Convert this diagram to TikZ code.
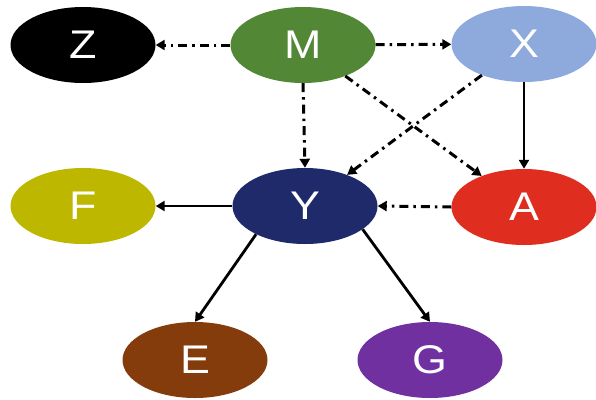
\documentclass[tikz,border=0pt]{standalone}
\usepackage{fontspec}
\setmainfont{Liberation Sans}
\newfontfamily\lblfont[FakeStretch=1.12]{Liberation Sans}
\usetikzlibrary{arrows.meta,shapes.geometric}
\definecolor{cZ}{HTML}{000000}
\definecolor{cM}{HTML}{528736}
\definecolor{cX}{HTML}{8EA9DB}
\definecolor{cY}{HTML}{1F2A6B}
\definecolor{cA}{HTML}{DF2E1F}
\definecolor{cF}{HTML}{BDB700}
\definecolor{cE}{HTML}{843C0C}
\definecolor{cG}{HTML}{7030A0}
\tikzset{
  var/.style={ellipse, inner sep=0pt, minimum width=145pt, minimum height=76pt,
    text=white, font=\lblfont\fontsize{40}{44}\selectfont},
  dd/.style={line width=3pt, dash pattern=on 9pt off 5pt on 2.5pt off 5pt,
    -{Triangle[length=9pt,width=10pt]}},
  sol/.style={line width=2.8pt, -{Triangle[length=9pt,width=10pt]}}
}
\begin{document}
\begin{tikzpicture}[x=1pt,y=-1pt]
\useasboundingbox (0,0) rectangle (596,399);
\node[var, fill=cZ] (Z) at (83,45) {Z};
\node[var, fill=cM] (M) at (303,45) {M};
\node[var, fill=cX] (X) at (524,44) {X};
\node[var, fill=cF] (F) at (83,206) {F};
\node[var, fill=cY] (Y) at (305,206) {Y};
\node[var, fill=cA] (A) at (524,207) {A};
\node[var, fill=cE] (E) at (195,360) {E};
\node[var, fill=cG] (G) at (430,360) {G};
\draw[dd] (M) -- (Z);
\draw[dd] (M) -- (X);
\draw[dd] (M.south) -- (Y.north);
\draw[dd] (M) -- (A);
\draw[dd] (X) -- (Y);
\draw[dd] (A.west) -- (Y.east);
\draw[sol] (X) -- (A);
\draw[sol] (Y.west) -- (F.east);
\draw[sol] (Y.-150) -- (E.north);
\draw[sol] (Y.-22) -- (G.north);
\end{tikzpicture}
\end{document}
